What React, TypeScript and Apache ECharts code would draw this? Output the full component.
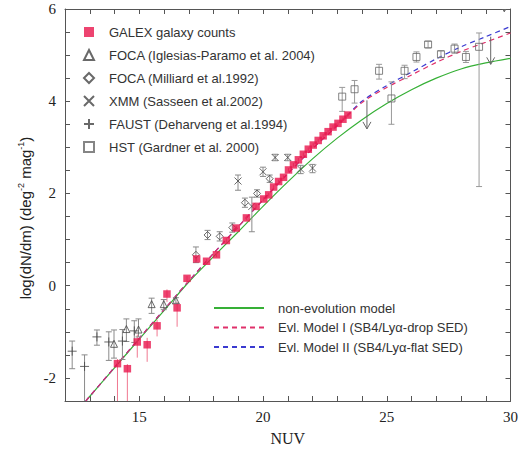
import React, { useEffect, useRef } from 'react';
import * as echarts from 'echarts';

// GALEX galaxy counts
const galexX = [14.12, 14.52, 14.92, 15.32, 15.72, 16.12, 16.53, 16.93, 17.32, 17.72, 18.12, 18.52, 18.92, 19.33, 19.72,
  20.03, 20.23, 20.43, 20.63, 20.83, 21.03, 21.23, 21.43, 21.63, 21.83, 22.03, 22.23, 22.43, 22.63, 22.83, 23.03, 23.23, 23.43];
const galexY = [-1.69, -1.8, -1.22, -1.28, -0.87, -0.18, -0.48, 0.16, 0.58, 0.53, 0.67, 0.98, 1.25, 1.47, 1.72,
  1.88, 1.97, 2.14, 2.26, 2.35, 2.51, 2.62, 2.73, 2.85, 2.96, 3.05, 3.15, 3.25, 3.34, 3.44, 3.52, 3.61, 3.7];
const galexErrLo = [0.85, 0.75, 0.34, 0.37, 0.23, 0.17, 0.41, 0.1, 0.05, 0.05, 0.05, 0.05, 0.05, 0.05, 0.05,
  0.04, 0.04, 0.04, 0.04, 0.04, 0.04, 0.04, 0.04, 0.04, 0.04, 0.04, 0.04, 0.04, 0.04, 0.04, 0.04, 0.04, 0.04];
const galexErrHi = [0.1, 0.1, 0.16, 0.15, 0.13, 0.1, 0.13, 0.05, 0.05, 0.05, 0.05, 0.05, 0.05, 0.05, 0.05,
  0.04, 0.04, 0.04, 0.04, 0.04, 0.04, 0.04, 0.04, 0.04, 0.04, 0.04, 0.04, 0.04, 0.04, 0.04, 0.04, 0.04, 0.04];

// FOCA (Iglesias-Paramo et al. 2004)
const focaIX = [13.98, 14.48, 14.97, 15.5, 15.99, 16.48];
const focaIY = [-1.26, -0.94, -0.95, -0.4, -0.4, -0.32];
const focaIErrLo = [0.31, 0.27, 0.16, 0.2, 0.12, 0.06];
const focaIErrHi = [0.3, 0.22, 0.23, 0.13, 0.1, 0.06];

// FOCA (Milliard et al. 1992)
const focaMX = [17.29, 17.76, 18.25, 18.76, 19.27, 19.76, 20.27];
const focaMY = [0.67, 1.1, 1.07, 1.26, 1.8, 2.0, 2.32];
const focaMErr = [0.17, 0.1, 0.1, 0.1, 0.1, 0.08, 0.08];

// XMM (Sasseen et al. 2002)
const xmmX = [18.99, 19.55, 20.0, 20.49, 21.0, 21.52, 22.0];
const xmmY = [2.27, 1.72, 2.47, 2.78, 2.78, 2.53, 2.55];
const xmmErrLo = [0.2, 0.55, 0.1, 0.07, 0.07, 0.1, 0.1];
const xmmErrHi = [0.13, 0.2, 0.1, 0.07, 0.07, 0.08, 0.08];

// FAUST (Deharveng et al. 1994)
const faustX = [12.29, 12.79, 13.29, 13.77, 14.32, 14.8];
const faustY = [-1.42, -1.75, -1.11, -1.22, -1.2, -0.98];
const faustErrLo = [0.38, 0.8, 0.18, 0.4, 0.4, 0.25];
const faustErrHi = [0.22, 0.25, 0.15, 0.22, 0.25, 0.22];

// HST (Gardner et al. 2000)
const hstX = [23.2, 23.7, 24.69, 25.19, 25.72, 26.2, 26.67, 27.19, 27.74, 28.2, 28.73];
const hstY = [4.1, 4.26, 4.66, 4.06, 4.66, 4.96, 5.23, 5.02, 5.14, 4.96, 5.18];
const hstErrLo = [0.32, 0.3, 0.18, 0.56, 0.17, 0.11, 0.07, 0.07, 0.1, 0.12, 3.03];
const hstErrHi = [0.2, 0.19, 0.14, 0.36, 0.12, 0.11, 0.07, 0.07, 0.1, 0.12, 0.3];

// upper limits (arrows)
const limX = [24.2, 29.2, 29.75];
const limTop = [4.02, 5.4, 6.3];
const limTip = [3.4, 4.8, 5.94];

// models
const modelX = [12.84, 14, 15, 16, 17, 18, 19, 20, 21, 22, 23, 24, 25, 26, 27, 28, 29, 30];
const nonEvol = [-2.5, -1.78, -1.16, -0.54, 0.08, 0.63, 1.17, 1.72, 2.25, 2.75, 3.2, 3.6, 3.95, 4.25, 4.5, 4.7, 4.83, 4.93];
const evolI = [-2.5, -1.77, -1.14, -0.52, 0.1, 0.7, 1.28, 1.86, 2.43, 2.97, 3.47, 3.97, 4.3, 4.57, 4.84, 5.08, 5.28, 5.48];
const evolII = [-2.5, -1.77, -1.14, -0.52, 0.1, 0.7, 1.28, 1.86, 2.43, 2.97, 3.47, 4.0, 4.34, 4.63, 4.92, 5.18, 5.4, 5.62];

const xTicks = { min: 12, max: 30, interval: 1, labels: [15, 20, 25, 30] };
const yTicks = { min: -2.5, max: 6, interval: 0.5, labels: [-2, 0, 2, 4, 6] };

const NAMES = {
  galex: 'GALEX galaxy counts',
  focaI: 'FOCA (Iglesias-Paramo et al. 2004)',
  focaM: 'FOCA (Milliard et al.1992)',
  xmm: 'XMM (Sasseen et al.2002)',
  faust: 'FAUST (Deharveng et al.1994)',
  hst: 'HST (Gardner et al. 2000)',
  nonEvol: 'non-evolution model',
  evI: 'Evl. Model I (SB4/Lyα-drop SED)',
  evII: 'Evl. Model II (SB4/Lyα-flat SED)',
};

function errData(xs: number[], ys: number[], lo: number[], hi: number[]) {
  return xs.map((x, i) => [x, ys[i] - lo[i], ys[i] + hi[i]]);
}

function errSeries(data: number[][], color: string, cap: number, z = 2) {
  return {
    type: 'custom',
    silent: true,
    clip: true,
    z,
    data,
    encode: { x: 0, y: [1, 2] },
    renderItem: (_p: any, api: any) => {
      const x = api.value(0);
      const a = api.coord([x, api.value(1)]);
      const b = api.coord([x, api.value(2)]);
      const style = { stroke: color, lineWidth: 1, fill: 'none' };
      const children: any[] = [
        { type: 'line', shape: { x1: a[0], y1: a[1], x2: b[0], y2: b[1] }, style },
      ];
      if (cap > 0) {
        children.push({ type: 'line', shape: { x1: a[0] - cap, y1: a[1], x2: a[0] + cap, y2: a[1] }, style });
        children.push({ type: 'line', shape: { x1: b[0] - cap, y1: b[1], x2: b[0] + cap, y2: b[1] }, style });
      }
      return { type: 'group', children };
    },
  };
}

const pts = (xs: number[], ys: number[]) => xs.map((x, i) => [x, ys[i]]);

export default function App() {
  const ref = useRef<HTMLDivElement>(null);
  useEffect(() => {
    if (!ref.current) return;
    const chart = echarts.init(ref.current, undefined, { renderer: 'svg' });
    const serif = 'Liberation Serif';
    const sans = 'Liberation Sans';
    const axisCommon = {
      axisLine: { show: true, onZero: false, lineStyle: { color: '#555', width: 1 } },
      axisTick: { show: true, inside: true, length: 5, lineStyle: { color: '#555' } },
      splitLine: { show: false },
    };
    const gray = '#444';
    const barGray = '#8a8a8a';
    const hollow = { color: 'transparent', borderColor: gray, borderWidth: 1 };
    const option: any = {
      animation: false,
      backgroundColor: '#fff',
      grid: { left: 65, right: 6, top: 9, bottom: 49, containLabel: false },
      xAxis: [
        {
          type: 'value', min: xTicks.min, max: xTicks.max, interval: xTicks.interval,
          ...axisCommon,
          axisLabel: {
            margin: 8, fontFamily: serif, fontSize: 15, color: '#222',
            formatter: (v: number) => (xTicks.labels.includes(v) ? String(v) : ''),
          },
          name: 'NUV', nameLocation: 'middle', nameGap: 29,
          nameTextStyle: { fontFamily: serif, fontSize: 16, color: '#222' },
        },
        {
          type: 'value', position: 'top', min: xTicks.min, max: xTicks.max, interval: xTicks.interval,
          ...axisCommon, axisLabel: { show: false },
        },
      ],
      yAxis: [
        {
          type: 'value', min: yTicks.min, max: yTicks.max, interval: yTicks.interval,
          ...axisCommon,
          axisLabel: {
            margin: 9, fontFamily: serif, fontSize: 15, color: '#222',
            formatter: (v: number) => (yTicks.labels.includes(v) ? String(v) : ''),
          },
        },
        {
          type: 'value', position: 'right', min: yTicks.min, max: yTicks.max, interval: yTicks.interval,
          ...axisCommon, axisLabel: { show: false },
        },
      ],
      legend: [
        {
          data: [NAMES.galex, NAMES.focaI, NAMES.focaM, NAMES.xmm, NAMES.faust, NAMES.hst],
          orient: 'vertical', left: 83, top: 25, padding: 0, itemWidth: 10, itemHeight: 10, itemGap: 9,
          selectedMode: false,
          textStyle: { fontFamily: sans, fontSize: 13, color: '#333', lineHeight: 14, padding: [0, 0, 0, 10] },
        },
        {
          data: [NAMES.nonEvol, NAMES.evI, NAMES.evII],
          orient: 'vertical', left: 213, top: 301, padding: 0, itemWidth: 50, itemHeight: 10, itemGap: 5.5,
          selectedMode: false,
          itemStyle: { opacity: 0 },
          textStyle: { fontFamily: sans, fontSize: 13, color: '#333', lineHeight: 14, padding: [0, 0, 0, 9] },
        },
      ],
      graphic: [
        {
          type: 'text', x: 25, y: 218, rotation: Math.PI / 2,
          style: {
            text: 'log(dN/dm) (deg{sup|-2} mag{sup|-1})',
            fontFamily: sans, fontSize: 15, fill: '#222',
            align: 'center', verticalAlign: 'middle', lineHeight: 18,
            rich: { sup: { fontSize: 9, lineHeight: 10, verticalAlign: 'top', fontFamily: sans, fill: '#222' } },
          },
        },
      ],
      series: [
        {
          name: NAMES.nonEvol, type: 'line', data: pts(modelX, nonEvol), symbol: 'none', smooth: 0.3, z: 1,
          lineStyle: { color: '#36b036', width: 1.2 }, itemStyle: { color: '#36b036' },
        },
        {
          name: NAMES.evII, type: 'line', data: pts(modelX, evolII), symbol: 'none', smooth: 0.3, z: 1,
          lineStyle: { color: '#3a3ad0', width: 1.2, type: [5, 4] }, itemStyle: { color: '#3a3ad0' },
        },
        {
          name: NAMES.evI, type: 'line', data: pts(modelX, evolI), symbol: 'none', smooth: 0.3, z: 1,
          lineStyle: { color: '#e0306a', width: 1.2, type: [5, 4] }, itemStyle: { color: '#e0306a' },
        },
        errSeries(errData(galexX, galexY, galexErrLo, galexErrHi), '#f07890', 0, 2),
        errSeries(errData(focaIX, focaIY, focaIErrLo, focaIErrHi), barGray, 3),
        errSeries(errData(focaMX, focaMY, focaMErr, focaMErr), barGray, 3),
        errSeries(errData(xmmX, xmmY, xmmErrLo, xmmErrHi), barGray, 3),
        errSeries(errData(faustX, faustY, faustErrLo, faustErrHi), barGray, 3),
        errSeries(errData(hstX, hstY, hstErrLo, hstErrHi), '#9a9a9a', 3),
        {
          type: 'custom', silent: true, clip: true, z: 2,
          data: limX.map((x, i) => [x, limTop[i], limTip[i]]),
          encode: { x: 0, y: [1, 2] },
          renderItem: (_p: any, api: any) => {
            const x = api.value(0);
            const a = api.coord([x, api.value(1)]);
            const b = api.coord([x, api.value(2)]);
            const style = { stroke: '#666', lineWidth: 1, fill: 'none' };
            return {
              type: 'group',
              children: [
                { type: 'line', shape: { x1: a[0], y1: a[1], x2: b[0], y2: b[1] }, style },
                { type: 'polyline', shape: { points: [[b[0] - 4, b[1] - 7], [b[0], b[1]], [b[0] + 4, b[1] - 7]] }, style },
              ],
            };
          },
        },
        {
          name: NAMES.faust, type: 'scatter', data: pts(faustX, faustY), z: 3,
          symbol: 'path://M5,0L5,10M0,5L10,5', symbolSize: 9, itemStyle: hollow,
        },
        {
          name: NAMES.focaI, type: 'scatter', data: pts(focaIX, focaIY), z: 3,
          symbol: 'triangle', symbolSize: 7, itemStyle: hollow,
        },
        {
          name: NAMES.focaM, type: 'scatter', data: pts(focaMX, focaMY), z: 3,
          symbol: 'diamond', symbolSize: 7, itemStyle: hollow,
        },
        {
          name: NAMES.xmm, type: 'scatter', data: pts(xmmX, xmmY), z: 3,
          symbol: 'path://M0,0L10,10M10,0L0,10', symbolSize: 7, itemStyle: hollow,
        },
        {
          name: NAMES.hst, type: 'scatter', data: pts(hstX, hstY), z: 3,
          symbol: 'rect', symbolSize: 7, itemStyle: { color: 'transparent', borderColor: '#666', borderWidth: 1 },
        },
        {
          name: NAMES.galex, type: 'scatter', data: pts(galexX, galexY), z: 4,
          symbol: 'rect', symbolSize: 7.5, itemStyle: { color: '#e8154c' },
        },
      ],
    };
    chart.setOption(option);
    return () => chart.dispose();
  }, []);
  return <div ref={ref} style={{ position: 'absolute', left: 0, top: 0, width: 521, height: 451 }} />;
}
